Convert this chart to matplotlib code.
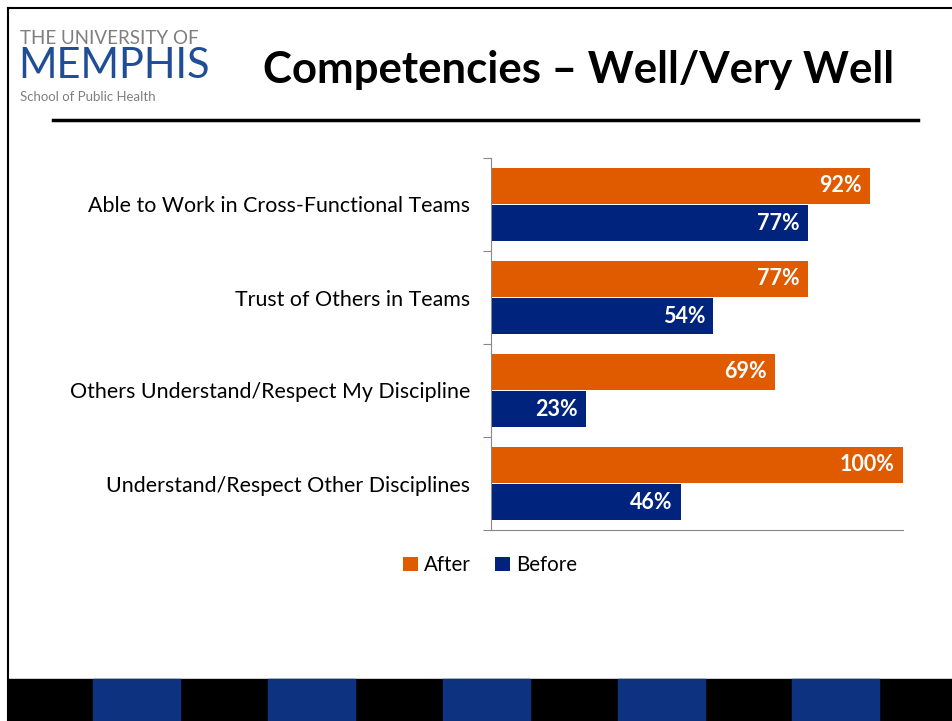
import matplotlib.pyplot as plt
from matplotlib.patches import Rectangle
import numpy as np

# chart data
categories = ["Able to Work in Cross-Functional Teams",
              "Trust of Others in Teams",
              "Others Understand/Respect My Discipline",
              "Understand/Respect Other Disciplines"]
after = [92, 77, 69, 100]
before = [77, 54, 23, 46]

orange = '#E05A00'
navy = '#00247D'
stripe_blue = '#0D3380'

plt.rcParams['font.family'] = ['Lato', 'DejaVu Sans']

fig = plt.figure(figsize=(9.53, 7.21), dpi=100, facecolor='white')
W, H = 953, 721


def fx(px):
    return px / W


def fy(py):
    return 1 - py / H


# slide border (top and left)
fig.add_artist(plt.Line2D([fx(8), fx(8)], [fy(8), fy(721)], color='black', lw=1.5))
fig.add_artist(plt.Line2D([fx(8), 1], [fy(8), fy(8)], color='black', lw=1.5))

# logo
fig.text(fx(20), fy(44), "THE UNIVERSITY OF", fontsize=13.5, color='#7f7f7f',
         va='baseline', ha='left')
fig.text(fx(18), fy(78), "MEMPHIS", fontsize=30, color='#1f4e96',
         va='baseline', ha='left')
fig.text(fx(20), fy(101), "School of Public Health", fontsize=9.5, color='#7f7f7f',
         va='baseline', ha='left')

# title + rule
fig.text(fx(579), fy(70), "Competencies \u2013 Well/Very Well", fontsize=31.5,
         fontweight='bold', ha='center', va='center', color='black')
fig.add_artist(plt.Line2D([fx(53), fx(918)], [fy(120), fy(120)], color='black', lw=2.5))

# bottom stripe band
fig.add_artist(Rectangle((fx(8), 0), 1 - fx(8), fy(679), color='black',
                         transform=fig.transFigure, zorder=1))
for x0 in [93, 268, 443, 618, 792]:
    fig.add_artist(Rectangle((fx(x0), 0), fx(87), fy(679), color=stripe_blue,
                             transform=fig.transFigure, zorder=2))

# bar chart
ax = fig.add_axes([fx(491), fy(530), fx(903) - fx(491), fy(158) - fy(530)])
y = np.arange(len(categories))
h = 0.39
b1 = ax.barh(y - 0.2, after, height=h, color=orange, label='After')
b2 = ax.barh(y + 0.2, before, height=h, color=navy, label='Before')

for bars, vals in [(b1, after), (b2, before)]:
    for bar, v in zip(bars, vals):
        ax.annotate(f"{v}%", (bar.get_width(), bar.get_y() + bar.get_height() / 2),
                    xytext=(-6, 0), textcoords='offset points', ha='right', va='center',
                    color='white', fontsize=15.5, fontweight='bold')

ax.set_xlim(0, 100)
ax.set_ylim(3.5, -0.5)
ax.set_yticks(np.arange(-0.5, 4, 1))
ax.set_yticklabels([])
ax.set_yticks(y, minor=True)
ax.set_yticklabels(categories, minor=True, fontsize=15.4)
ax.tick_params(axis='y', which='minor', length=0, pad=15)
ax.tick_params(axis='y', which='major', length=6, color='#888888')
ax.set_xticks([])
for s in ['top', 'right']:
    ax.spines[s].set_visible(False)
ax.spines['left'].set_color('#888888')
ax.spines['bottom'].set_color('#888888')

fig.legend(handles=[b1, b2], labels=['After', 'Before'], loc='center',
           bbox_to_anchor=(fx(490), fy(565)), ncol=2, frameon=False, fontsize=14.8,
           handlelength=0.7, handleheight=0.7, handletextpad=0.3, columnspacing=1.2)

fig.savefig('out.png', dpi=100, facecolor='white')
